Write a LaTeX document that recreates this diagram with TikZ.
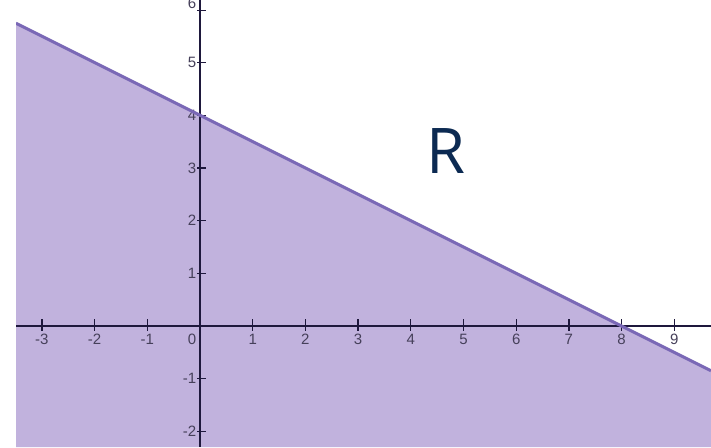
\documentclass[tikz,border=0pt]{standalone}
\usepackage{fontspec}
\setmainfont{Liberation Sans}
\newfontfamily\rfont{Open Sans}
\definecolor{regionfill}{RGB}{193,178,221}
\definecolor{boundline}{RGB}{122,104,182}
\definecolor{axiscol}{RGB}{30,24,60}
\definecolor{labelcol}{RGB}{70,64,90}
\definecolor{rcol}{RGB}{12,42,82}
\tikzset{
  axisline/.style={draw=axiscol, line width=1.8pt},
  tickline/.style={draw=axiscol, line width=1.3pt},
  ticklabel/.style={text=labelcol, inner sep=0pt, font=\fontsize{15}{15}\selectfont},
  boundary/.style={draw=boundline, line width=3pt},
}
\begin{document}
\begin{tikzpicture}[x=1pt,y=-1pt]
\useasboundingbox (0,0) rectangle (711,447);
\fill[white] (0,0) rectangle (711,447);
\clip (16,0) rectangle (711,447);
% shaded region below the line y = 4 - x/2
\coordinate (lineL) at (16,23.2);
\coordinate (lineR) at (711,370.7);
\fill[regionfill] (lineL) -- (lineR) -- (711,447) -- (16,447) -- cycle;
% axes
\coordinate (xL) at (16,326);
\coordinate (xR) at (711,326);
\coordinate (yT) at (200,0);
\coordinate (yB) at (200,447);
\draw[axisline] (xL) -- (xR);
\draw[axisline] (yT) -- (yB);
% x ticks and labels
\foreach \k in {-3,-2,-1,1,2,3,4,5,6,7,8,9}{
  \draw[tickline] ({200+52.7*\k},319) -- ({200+52.7*\k},331);
  \node[ticklabel] (xl\k) at ({200+52.7*\k},339.5) {\k};
}
\node[ticklabel] (xl0) at (192,339.5) {0};
% y ticks and labels
\foreach \k in {-2,-1,1,2,3,4,5}{
  \draw[tickline] (197,{326-52.7*\k}) -- (206,{326-52.7*\k});
  \node[ticklabel, anchor=east] (yl\k) at (196.5,{326-52.7*\k}) {\k};
}
\draw[tickline] (197,10.5) -- (206,10.5);
\node[ticklabel, anchor=east] (yl6) at (196.5,3) {6};
% boundary line
\draw[boundary] (lineL) -- (lineR);
% region label
\node[text=rcol, inner sep=0pt, anchor=base, font=\rfont\fontsize{63}{63}\selectfont] (rlabel) at (445.5,173) {R};
\end{tikzpicture}
\end{document}
